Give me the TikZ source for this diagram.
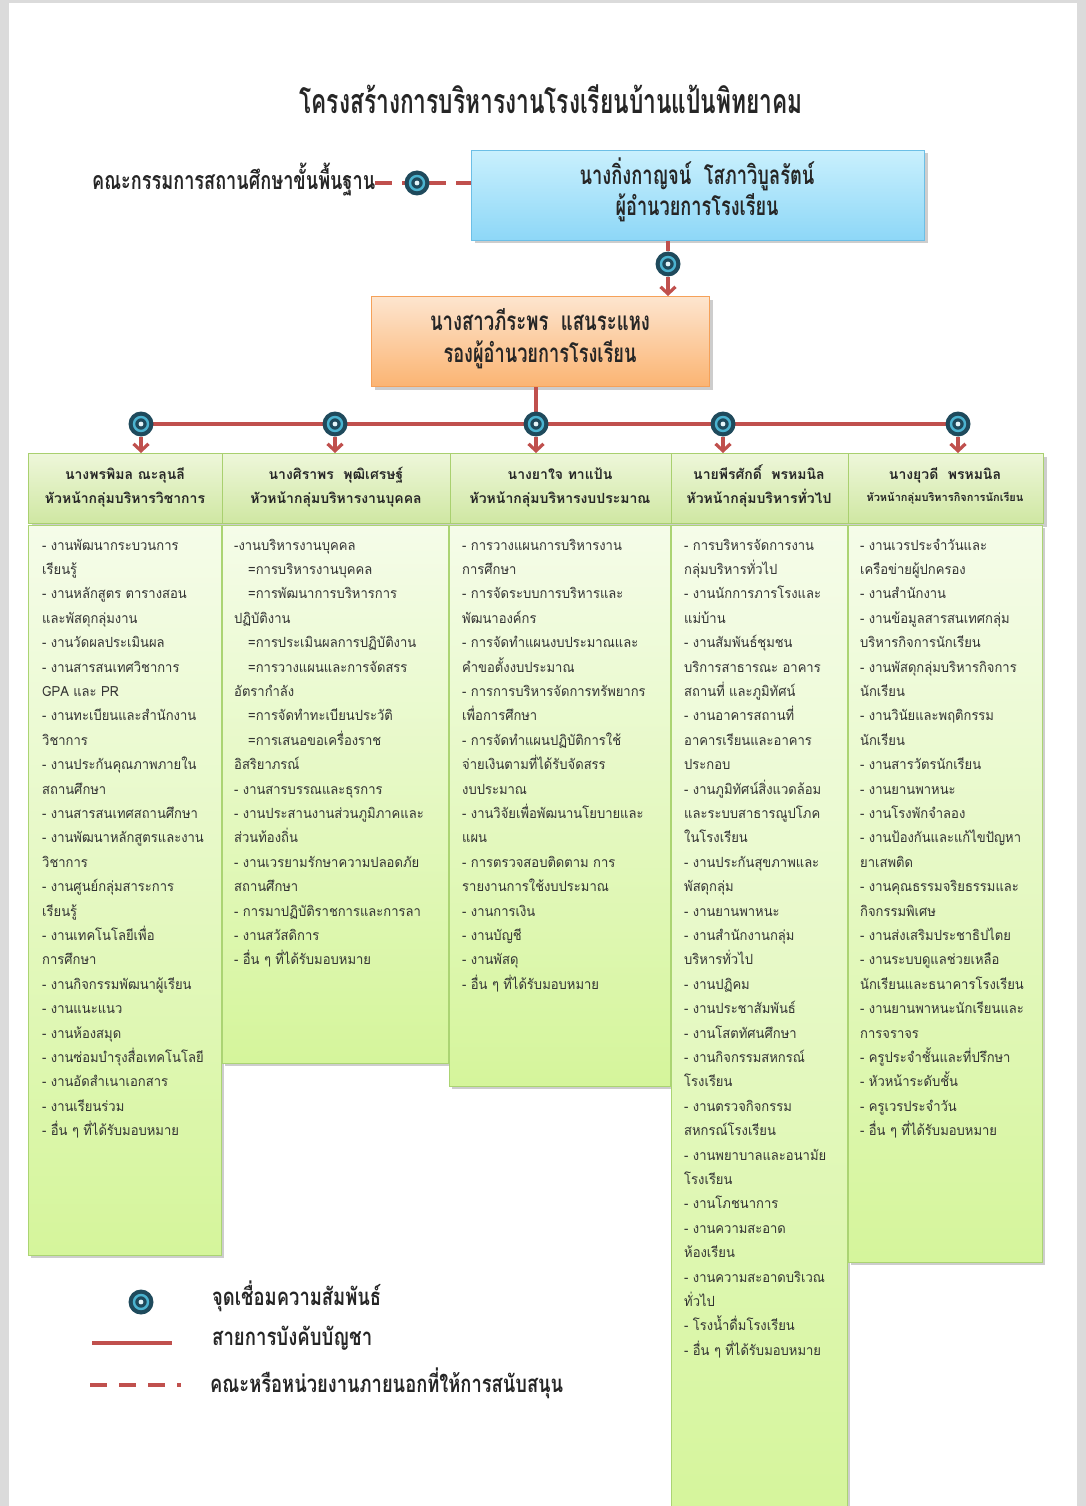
\documentclass[tikz,border=0pt]{standalone}
\usepackage{fontspec}
\usepackage{graphicx}
\usetikzlibrary{arrows.meta,shadows}
\newfontfamily\thaifont[Script=Thai]{Loma}
\newfontfamily\thaibody[Script=Thai,FakeStretch=0.93]{Loma}
\newcommand\fitw[2]{\resizebox{#1pt}{\height}{#2}}
\definecolor{redln}{HTML}{C0504D}
\definecolor{jdark}{HTML}{1F4A5C}
\definecolor{jcyan}{HTML}{4BB3D0}
\definecolor{txt}{HTML}{262626}
\definecolor{bodytxt}{HTML}{333333}
\definecolor{blueT}{HTML}{C9F0FD}
\definecolor{blueB}{HTML}{8DD7F7}
\definecolor{blueD}{HTML}{6CBFE6}
\definecolor{oraT}{HTML}{FDE5CF}
\definecolor{oraB}{HTML}{FBB472}
\definecolor{oraD}{HTML}{F5A159}
\definecolor{hdrT}{HTML}{EEF7DA}
\definecolor{hdrB}{HTML}{CFE7A2}
\definecolor{hdrD}{HTML}{A9D06F}
\definecolor{bodyT}{HTML}{F5FCE9}
\definecolor{bodyB}{HTML}{D5F59B}
\definecolor{bodyD}{HTML}{ABD473}
\begin{document}
\begin{tikzpicture}[x=1pt,y=-1pt,
  redl/.style={draw=redln, line width=3.2pt},
  arr/.style={redl, -{Straight Barb[length=7pt,width=15pt]}},
  jn/.style={circle, minimum size=25pt, inner sep=0pt, fill=jdark,
    path picture={\draw[jcyan,line width=2.4pt] (path picture bounding box.center) circle (7pt);
                  \fill[white!85!jcyan] (path picture bounding box.center) circle (2.4pt);}},
  box/.style={rectangle, inner sep=0pt, anchor=north west,
    drop shadow={shadow xshift=3pt,shadow yshift=-3pt,opacity=.28,fill=black!70}},
  bluebox/.style={box, draw=blueD, line width=1pt, top color=blueT, bottom color=blueB},
  orangebox/.style={box, draw=oraD, line width=1pt, top color=oraT, bottom color=oraB},
  hdrbox/.style={box, draw=hdrD, line width=1pt, top color=hdrT, bottom color=hdrB, minimum height=70},
  bodybox/.style={box, draw=bodyD, line width=0.8pt, top color=bodyT, bottom color=bodyB},
  bigtxt/.style={text=txt, inner sep=0pt, font=\thaifont\bfseries\fontsize{26}{30}\selectfont},
  hdrtxt/.style={text=txt, inner sep=0pt, anchor=base, font=\thaifont\bfseries\fontsize{14}{17}\selectfont},
  bodytext/.style={text=bodytxt, inner sep=0pt, anchor=base west, font=\thaibody\fontsize{14}{17}\selectfont},
]
\useasboundingbox (0,0) rectangle (1086,1506);
% page
\fill[black!14] (0,0) rectangle (1086,1506);
\fill[white] (9,3) rectangle (1077,1506);

% title
\node[bigtxt, anchor=base, font=\thaifont\bfseries\fontsize{34}{38}\selectfont] (title) at (551,114)
  {\fitw{503}{โครงสร้างการบริหารงานโรงเรียนบ้านแป้นพิทยาคม}};

% director
\node[bluebox, minimum width=453, minimum height=90] (dir) at (471,150) {};
\node[bigtxt, anchor=base] (dir1) at (697,185) {\fitw{235}{นางกิ่งกาญจน์\ \ โสภาวิบูลรัตน์}};
\node[bigtxt, anchor=base] (dir2) at (697,216) {\fitw{163}{ผู้อำนวยการโรงเรียน}};

% board
\node[bigtxt, anchor=base west, font=\thaifont\bfseries\fontsize{25}{30}\selectfont] (board) at (92,190)
  {\fitw{283}{คณะกรรมการสถานศึกษาขั้นพื้นฐาน}};
\coordinate (jbpos) at (417,183);
\draw[redl, dash pattern=on 17pt off 10pt] (board.east |- jbpos) -- (jbpos -| dir.west);
\node[jn] (jb) at (jbpos) {};

% deputy
\node[orangebox, minimum width=338, minimum height=90] (vp) at (371,296) {};
\node[bigtxt, anchor=base] (vp1) at (540,330) {\fitw{220}{นางสาวภีระพร\ \ แสนระแหง}};
\node[bigtxt, anchor=base] (vp2) at (540,362) {\fitw{193}{รองผู้อำนวยการโรงเรียน}};

% connector director -> deputy
\node[jn] (j0) at (668,264) {};
\draw[redl] (j0 |- dir.south) -- (j0);
\draw[arr] (j0.south) -- (j0 |- vp.north);

% header boxes
\node[hdrbox, minimum width=194] (h1) at (28,453) {};
\node[hdrbox, minimum width=228] (h2) at (222,453) {};
\node[hdrbox, minimum width=221] (h3) at (450,453) {};
\node[hdrbox, minimum width=177] (h4) at (671,453) {};
\node[hdrbox, minimum width=195] (h5) at (848,453) {};

% junction positions
\coordinate (p1) at (141,424);
\coordinate (p2) at (335,424);
\coordinate (p3) at (536,424);
\coordinate (p4) at (723,424);
\coordinate (p5) at (958,424);
\draw[redl] (p1) -- (p5);
\draw[redl] (p3 |- vp.south) -- (p3);
\foreach \k in {1,...,5}{
  \node[jn] (j\k) at (p\k) {};
  \draw[arr] (j\k.south) -- (j\k |- h\k.north);
}

% header texts
\node[hdrtxt] (h1a) at (125,479) {นางพรพิมล ณะลุนลี};
\node[hdrtxt] (h1b) at (125,503) {หัวหน้ากลุ่มบริหารวิชาการ};
\node[hdrtxt] (h2a) at (336,479) {นางศิราพร\ \ พุฒิเศรษฐ์};
\node[hdrtxt] (h2b) at (336,503) {หัวหน้ากลุ่มบริหารงานบุคคล};
\node[hdrtxt] (h3a) at (560,479) {นางยาใจ ทาแป้น};
\node[hdrtxt] (h3b) at (560,503) {หัวหน้ากลุ่มบริหารงบประมาณ};
\node[hdrtxt] (h4a) at (759,479) {นายพีรศักดิ์\ \ พรหมนิล};
\node[hdrtxt] (h4b) at (759,503) {หัวหน้ากลุ่มบริหารทั่วไป};
\node[hdrtxt] (h5a) at (945,479) {นางยุวดี\ \ พรหมนิล};
\node[hdrtxt, font=\thaifont\bfseries\fontsize{11}{13}\selectfont] (h5b) at (945,501) {หัวหน้ากลุ่มบริหารกิจการนักเรียน};

% body boxes
\node[bodybox, minimum width=193, minimum height=730] (b1) at (28,525) {};
\node[bodybox, minimum width=226, minimum height=538] (b2) at (222,525) {};
\node[bodybox, minimum width=221, minimum height=561] (b3) at (449,525) {};
\node[bodybox, minimum width=176, minimum height=995] (b4) at (671,525) {};
\node[bodybox, minimum width=194, minimum height=737] (b5) at (848,525) {};

% body texts
\foreach \t [count=\i from 0] in {
- งานพัฒนากระบวนการ, เรียนรู้, - งานหลักสูตร ตารางสอน, และพัสดุกลุ่มงาน, - งานวัดผลประเมินผล,
- งานสารสนเทศวิชาการ, GPA และ PR, - งานทะเบียนและสำนักงาน, วิชาการ, - งานประกันคุณภาพภายใน,
สถานศึกษา, - งานสารสนเทศสถานศึกษา, - งานพัฒนาหลักสูตรและงาน, วิชาการ, - งานศูนย์กลุ่มสาระการ,
เรียนรู้, - งานเทคโนโลยีเพื่อ, การศึกษา, - งานกิจกรรมพัฒนาผู้เรียน, - งานแนะแนว,
- งานห้องสมุด, - งานซ่อมบำรุงสื่อเทคโนโลยี, - งานอัดสำเนาเอกสาร, - งานเรียนร่วม, - อื่น ๆ ที่ได้รับมอบหมาย}
  \node[bodytext] (t1-\i) at (42,550+24.4*\i) {\t};

\foreach \t [count=\i from 0] in {
-งานบริหารงานบุคคล, \hspace*{14pt}=การบริหารงานบุคคล, \hspace*{14pt}=การพัฒนาการบริหารการ, ปฏิบัติงาน,
\hspace*{14pt}=การประเมินผลการปฏิบัติงาน, \hspace*{14pt}=การวางแผนและการจัดสรร, อัตรากำลัง,
\hspace*{14pt}=การจัดทำทะเบียนประวัติ, \hspace*{14pt}=การเสนอขอเครื่องราช, อิสริยาภรณ์,
- งานสารบรรณและธุรการ, - งานประสานงานส่วนภูมิภาคและ, ส่วนท้องถิ่น, - งานเวรยามรักษาความปลอดภัย,
สถานศึกษา, - การมาปฏิบัติราชการและการลา, - งานสวัสดิการ, - อื่น ๆ ที่ได้รับมอบหมาย}
  \node[bodytext] (t2-\i) at (234,550+24.4*\i) {\t};

\foreach \t [count=\i from 0] in {
- การวางแผนการบริหารงาน, การศึกษา, - การจัดระบบการบริหารและ, พัฒนาองค์กร, - การจัดทำแผนงบประมาณและ,
คำขอตั้งงบประมาณ, - การการบริหารจัดการทรัพยากร, เพื่อการศึกษา, - การจัดทำแผนปฏิบัติการใช้,
จ่ายเงินตามที่ได้รับจัดสรร, งบประมาณ, - งานวิจัยเพื่อพัฒนานโยบายและ, แผน, - การตรวจสอบติดตาม การ,
รายงานการใช้งบประมาณ, - งานการเงิน, - งานบัญชี, - งานพัสดุ, - อื่น ๆ ที่ได้รับมอบหมาย}
  \node[bodytext] (t3-\i) at (462,550+24.4*\i) {\t};

\foreach \t [count=\i from 0] in {
- การบริหารจัดการงาน, กลุ่มบริหารทั่วไป, - งานนักการภารโรงและ, แม่บ้าน, - งานสัมพันธ์ชุมชน,
บริการสาธารณะ อาคาร, สถานที่ และภูมิทัศน์, - งานอาคารสถานที่, อาคารเรียนและอาคาร, ประกอบ,
- งานภูมิทัศน์สิ่งแวดล้อม, และระบบสาธารณูปโภค, ในโรงเรียน, - งานประกันสุขภาพและ, พัสดุกลุ่ม,
- งานยานพาหนะ, - งานสำนักงานกลุ่ม, บริหารทั่วไป, - งานปฏิคม, - งานประชาสัมพันธ์,
- งานโสตทัศนศึกษา, - งานกิจกรรมสหกรณ์, โรงเรียน, - งานตรวจกิจกรรม, สหกรณ์โรงเรียน,
- งานพยาบาลและอนามัย, โรงเรียน, - งานโภชนาการ, - งานความสะอาด, ห้องเรียน,
- งานความสะอาดบริเวณ, ทั่วไป, - โรงน้ำดื่มโรงเรียน, - อื่น ๆ ที่ได้รับมอบหมาย}
  \node[bodytext] (t4-\i) at (684,550+24.4*\i) {\t};

\foreach \t [count=\i from 0] in {
- งานเวรประจำวันและ, เครือข่ายผู้ปกครอง, - งานสำนักงาน, - งานข้อมูลสารสนเทศกลุ่ม, บริหารกิจการนักเรียน,
- งานพัสดุกลุ่มบริหารกิจการ, นักเรียน, - งานวินัยและพฤติกรรม, นักเรียน, - งานสารวัตรนักเรียน,
- งานยานพาหนะ, - งานโรงพักจำลอง, - งานป้องกันและแก้ไขปัญหา, ยาเสพติด, - งานคุณธรรมจริยธรรมและ,
กิจกรรมพิเศษ, - งานส่งเสริมประชาธิปไตย, - งานระบบดูแลช่วยเหลือ, นักเรียนและธนาคารโรงเรียน,
- งานยานพาหนะนักเรียนและ, การจราจร, - ครูประจำชั้นและที่ปรึกษา, - หัวหน้าระดับชั้น, - ครูเวรประจำวัน,
- อื่น ๆ ที่ได้รับมอบหมาย}
  \node[bodytext] (t5-\i) at (860,550+24.4*\i) {\t};

% legend
\node[jn] (lj) at (141,1302) {};
\node[bigtxt, anchor=base west, font=\thaifont\bfseries\fontsize{24}{28}\selectfont] (l1) at (212,1305) {\fitw{169}{จุดเชื่อมความสัมพันธ์}};
\node[bigtxt, anchor=base west, font=\thaifont\bfseries\fontsize{24}{28}\selectfont] (l2) at (212,1345) {\fitw{160}{สายการบังคับบัญชา}};
\node[bigtxt, anchor=base west, font=\thaifont\bfseries\fontsize{24}{28}\selectfont] (l3) at (210,1392) {\fitw{353}{คณะหรือหน่วยงานภายนอกที่ให้การสนับสนุน}};
\coordinate (ls0) at (92,1343);
\coordinate (ls1) at (172,1343);
\draw[redl, line width=3.8pt] (ls0) -- (ls1);
\coordinate (ld0) at (90,1385);
\coordinate (ld1) at (181,1385);
\draw[redl, line width=3.8pt, dash pattern=on 17pt off 12pt] (ld0) -- (ld1);
\end{tikzpicture}
\end{document}
